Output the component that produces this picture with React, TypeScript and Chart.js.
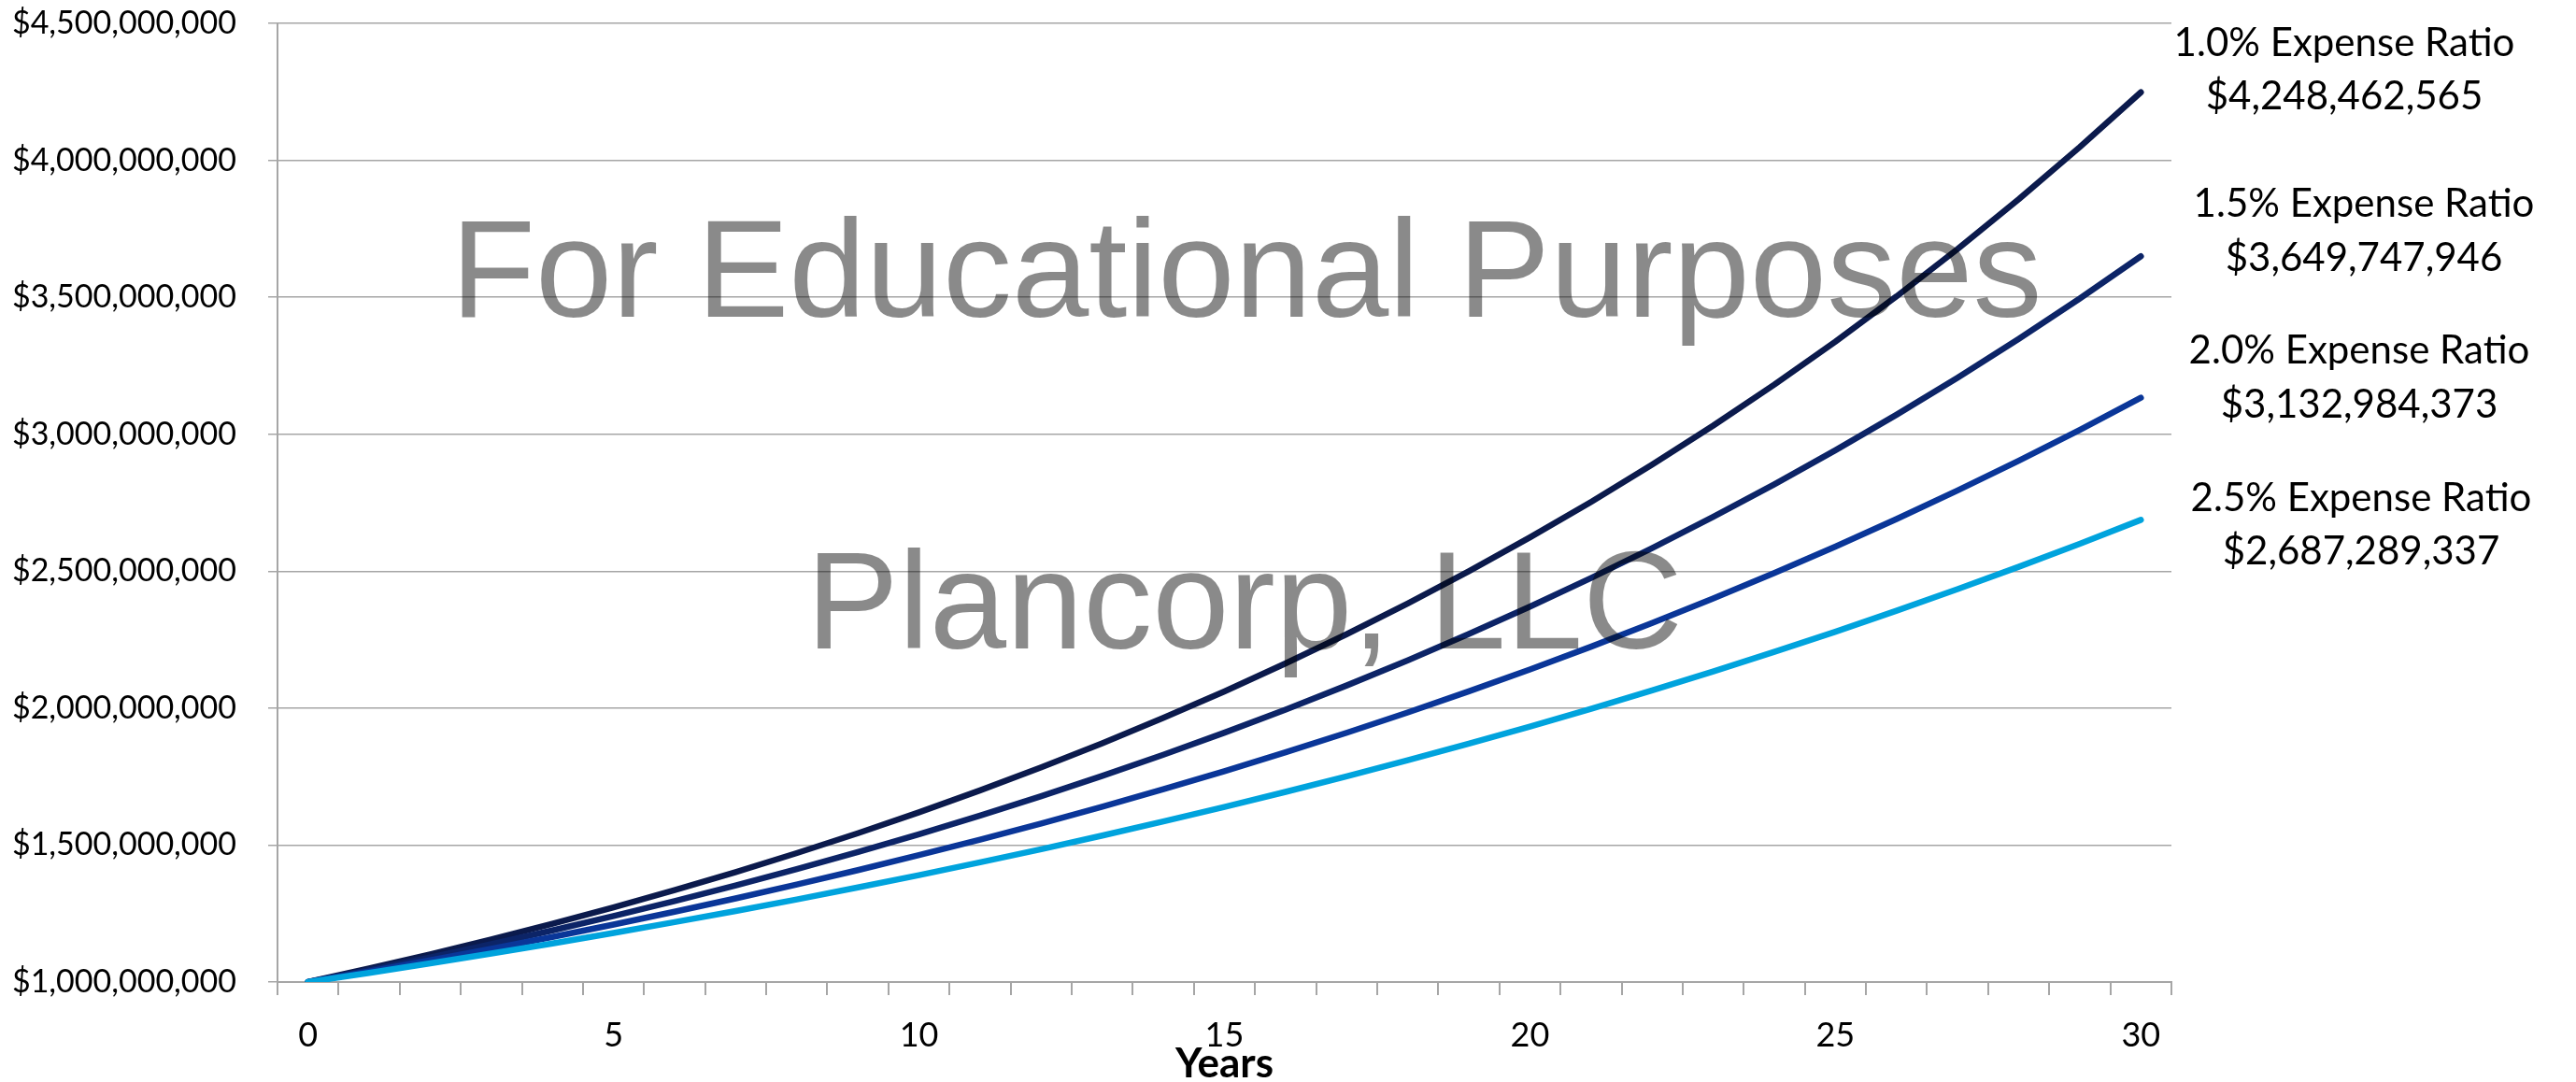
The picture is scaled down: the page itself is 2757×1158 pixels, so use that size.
import React, { useEffect, useRef } from 'react';
import { Chart, registerables } from 'chart.js';

Chart.register(...registerables);

// Categories (years)
const years = [
  '0', '1', '2', '3', '4', '5', '6', '7', '8', '9', '10',
  '11', '12', '13', '14', '15', '16', '17', '18', '19', '20',
  '21', '22', '23', '24', '25', '26', '27', '28', '29', '30',
];

// Portfolio values in millions of dollars
const ratio10 = [
  1000.0, 1049.4, 1101.24, 1155.641, 1212.73, 1272.639, 1335.507, 1401.481, 1470.714, 1543.367, 1619.609,
  1699.618, 1783.579, 1871.688, 1964.149, 2061.178, 2163.0, 2269.852, 2381.983, 2499.653, 2623.136,
  2752.719, 2888.703, 3031.405, 3181.156, 3338.305, 3503.217, 3676.276, 3857.884, 4048.464, 4248.463,
];
const ratio15 = [
  1000.0, 1044.1, 1090.145, 1138.22, 1188.416, 1240.825, 1295.545, 1352.679, 1412.332, 1474.616, 1539.647,
  1607.545, 1678.438, 1752.457, 1829.74, 1910.432, 1994.682, 2082.648, 2174.493, 2270.388, 2370.512,
  2475.052, 2584.202, 2698.165, 2817.154, 2941.391, 3071.106, 3206.542, 3347.95, 3495.595, 3649.748,
];
const ratio20 = [
  1000.0, 1038.8, 1079.105, 1120.974, 1164.468, 1209.649, 1256.583, 1305.338, 1355.985, 1408.597, 1463.251,
  1520.025, 1579.002, 1640.267, 1703.909, 1770.021, 1838.698, 1910.04, 1984.15, 2061.135, 2141.107,
  2224.182, 2310.48, 2400.127, 2493.252, 2589.99, 2690.482, 2794.873, 2903.314, 3015.963, 3132.984,
];
const ratio25 = [
  1000.0, 1033.5, 1068.122, 1103.904, 1140.885, 1179.105, 1218.605, 1259.428, 1301.619, 1345.223, 1390.288,
  1436.863, 1484.998, 1534.745, 1586.159, 1639.295, 1694.211, 1750.967, 1809.624, 1870.246, 1932.899,
  1997.651, 2064.572, 2133.735, 2205.215, 2279.09, 2355.44, 2434.347, 2515.898, 2600.181, 2687.289,
];

const seriesNames = ['1.0% Expense Ratio', '1.5% Expense Ratio', '2.0% Expense Ratio', '2.5% Expense Ratio'];
const endLabels = ['$4,248,462,565', '$3,649,747,946', '$3,132,984,373', '$2,687,289,337'];
const seriesColors = ['#0b1a4c', '#0c2467', '#0a3698', '#00a3dd'];

// y-axis tick range
const yMin = 1000000000;
const yMax = 4500000000;
const yStep = 500000000;

// Annotation layout (canvas pixels)
const labelPos = [
  { x: 2509, y1: 60, y2: 117 },
  { x: 2530, y1: 232, y2: 290 },
  { x: 2525, y1: 389, y2: 447 },
  { x: 2527, y1: 547, y2: 604 },
];

const overlayPlugin = {
  id: 'overlay',
  afterDatasetsDraw(chart: any) {
    const ctx = chart.ctx as CanvasRenderingContext2D;
    ctx.save();
    ctx.textAlign = 'center';
    ctx.textBaseline = 'alphabetic';
    ctx.font = '148px "Liberation Sans", Arial, sans-serif';
    ctx.fillStyle = 'rgba(0,0,0,0.46)';
    ctx.fillText('For Educational Purposes', 1334, 339);
    ctx.fillText('Plancorp, LLC', 1332, 694);

    ctx.fillStyle = '#000';
    ctx.font = '42px Lato, "Noto Sans", sans-serif';
    seriesNames.forEach((n, i) => {
      const p = labelPos[i];
      ctx.fillText(n, p.x, p.y1);
      ctx.fillText(endLabels[i], p.x, p.y2);
    });

    ctx.font = 'bold 44px Lato, "Noto Sans", sans-serif';
    const xs = chart.scales.x;
    ctx.fillText('Years', (xs.left + xs.right) / 2, 1153);
    ctx.restore();
  },
};

export default function App() {
  const ref = useRef<HTMLCanvasElement>(null);

  useEffect(() => {
    document.body.style.margin = '0';
    const all = [ratio10, ratio15, ratio20, ratio25];
    const chart = new Chart(ref.current!, {
      type: 'line',
      data: {
        labels: years,
        datasets: all.map((arr, i) => ({
          label: seriesNames[i],
          data: arr.map((v) => v * 1000000),
          borderColor: seriesColors[i],
          backgroundColor: seriesColors[i],
          borderWidth: 6.5,
          pointRadius: 0,
          tension: 0,
          fill: false,
          borderCapStyle: 'round' as const,
          borderJoinStyle: 'round' as const,
          order: 3 - i,
        })),
      },
      options: {
        responsive: false,
        animation: false,
        devicePixelRatio: 1,
        layout: { padding: { top: 25, right: 433, left: 0, bottom: 0 } },
        plugins: {
          legend: { display: false },
          tooltip: { enabled: false },
          title: { display: false },
        },
        scales: {
          x: {
            type: 'category',
            offset: true,
            grid: {
              offset: true,
              drawOnChartArea: false,
              drawTicks: true,
              tickLength: 14,
              color: '#a6a6a6',
              lineWidth: 2,
            },
            border: { display: true, color: '#a6a6a6', width: 2 },
            ticks: {
              autoSkip: false,
              maxRotation: 0,
              minRotation: 0,
              padding: 22,
              color: '#000',
              font: { size: 36, family: 'Lato' },
              callback: (_v: any, i: number) => (i % 5 === 0 ? years[i] : ''),
            },
            afterFit: (s: any) => {
              s.height = 107;
              s.paddingLeft = 0;
              s.paddingRight = 0;
            },
          },
          y: {
            min: yMin,
            max: yMax,
            ticks: {
              stepSize: yStep,
              padding: 34,
              color: '#000',
              font: { size: 34, family: 'Lato' },
              callback: (v: any) => '$' + Number(v).toLocaleString('en-US'),
            },
            grid: { color: '#a6a6a6', lineWidth: 1.5, tickLength: 10 },
            border: { display: true, color: '#a6a6a6', width: 2 },
            afterFit: (s: any) => {
              s.width = 297;
              s.paddingTop = 0;
              s.paddingBottom = 0;
            },
          },
        },
      },
      plugins: [overlayPlugin],
    });
    return () => chart.destroy();
  }, []);

  return (
    <div style={{ position: 'fixed', left: 0, top: 0, width: 2757, height: 1158, background: '#fff' }}>
      <canvas ref={ref} width={2757} height={1158} style={{ width: 2757, height: 1158, display: 'block' }} />
    </div>
  );
}
